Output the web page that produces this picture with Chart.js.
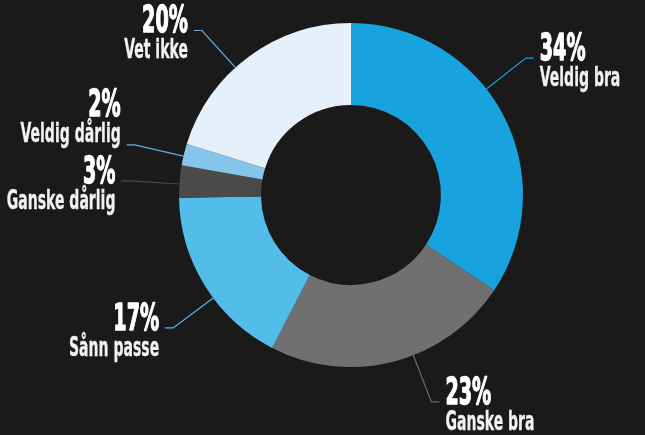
<!DOCTYPE html>
<html>
<head>
<meta charset="utf-8">
<script src="https://cdn.jsdelivr.net/npm/chart.js@4.4.1/dist/chart.umd.min.js"></script>
<style>
  html, body { margin: 0; padding: 0; background: #1a1a1a; }
  #wrap { width: 645px; height: 435px; }
</style>
</head>
<body>
<div id="wrap"><canvas id="grafico" width="645" height="435"></canvas></div>
<script>
// Data
const kategorier = ['Veldig bra', 'Ganske bra', 'Sånn passe', 'Ganske dårlig', 'Veldig dårlig', 'Vet ikke'];
const prosent = [34, 23, 17, 3, 2, 20];
const farger = ['#18a3de', '#707070', '#53bde9', '#4a4a4a', '#86c5eb', '#e5f0fa'];
const linjeFarger = ['#18a3de', '#6a6a6a', '#53bde9', '#4a4a4a', '#5fb0e0', '#6aaedc'];

const FONT = "'DejaVu Sans Condensed', sans-serif";

// Tekst med smal skalering (og litt ekstra tykkelse)
function skrivTekst(ctx, tekst, x, y, font, align, skala, farge, tykk) {
    ctx.save();
    ctx.font = font;
    ctx.translate(x, y);
    ctx.scale(skala, 1);
    ctx.textAlign = align;
    ctx.textBaseline = 'alphabetic';
    ctx.fillStyle = farge;
    ctx.strokeStyle = farge;
    ctx.lineWidth = tykk;
    ctx.lineJoin = 'round';
    ctx.fillText(tekst, 0, 0);
    if (tykk > 0) ctx.strokeText(tekst, 0, 0);
    ctx.restore();
}

// Etiketter med linjer
const etiketter = {
    id: 'etiketter',
    afterDatasetsDraw(chart) {
        const ctx = chart.ctx;
        const meta = chart.getDatasetMeta(0);

        // Beregn linjer og tekstplassering
        const info = meta.data.map((arc, i) => {
            const p = arc.getProps(['x', 'y', 'startAngle', 'endAngle', 'outerRadius']);
            const a = p.startAngle + 0.42 * (p.endAngle - p.startAngle);
            const r1 = p.outerRadius;
            const r2 = p.outerRadius + 50;
            const side = Math.cos(a) >= 0 ? 1 : -1;
            const x2 = p.x + Math.cos(a) * r2;
            const y2 = p.y + Math.sin(a) * r2;
            return {
                i, side,
                x1: p.x + Math.cos(a) * r1, y1: p.y + Math.sin(a) * r1,
                x2, y2, x3: x2 + side * 8,
                base: y2 + 2
            };
        });

        // Unngå at etiketter overlapper (nedenfra og opp)
        [1, -1].forEach(side => {
            const gruppe = info.filter(d => d.side === side).sort((a, b) => b.base - a.base);
            for (let k = 1; k < gruppe.length; k++) {
                const maks = gruppe[k - 1].base - 67;
                if (gruppe[k].base > maks) gruppe[k].base = maks;
            }
        });

        info.forEach(d => {
            ctx.save();
            ctx.strokeStyle = linjeFarger[d.i];
            ctx.lineWidth = 1.2;
            ctx.beginPath();
            ctx.moveTo(d.x1, d.y1);
            ctx.lineTo(d.x2, d.y2);
            ctx.lineTo(d.x3, d.y2);
            ctx.stroke();
            ctx.restore();

            const tx = d.x3 + d.side * 6;
            const align = d.side > 0 ? 'left' : 'right';
            skrivTekst(ctx, prosent[d.i] + '%', tx, d.base, 'bold 38px ' + FONT, align, 0.56, '#ffffff', 1.3);
            skrivTekst(ctx, kategorier[d.i], tx, d.base + 26, 'bold 26px ' + FONT, align, 0.6, '#f2f2f2', 0.3);
        });
    }
};

new Chart(document.getElementById('grafico'), {
    type: 'doughnut',
    data: {
        labels: kategorier,
        datasets: [{
            data: prosent,
            backgroundColor: farger,
            borderWidth: 0
        }]
    },
    options: {
        responsive: false,
        animation: false,
        radius: 172,
        cutout: '52.3%',
        layout: { padding: { left: 57, right: 0, top: 0, bottom: 45 } },
        plugins: {
            legend: { display: false },
            tooltip: { enabled: false }
        }
    },
    plugins: [etiketter]
});
</script>
</body>
</html>
